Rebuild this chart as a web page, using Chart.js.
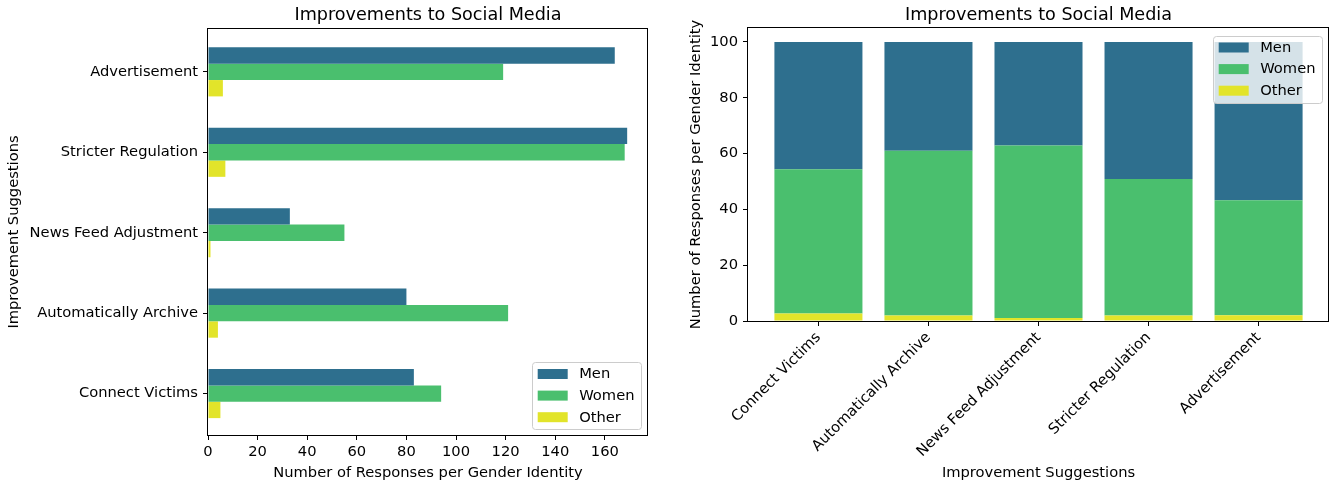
<!DOCTYPE html>
<html>
<head>
<meta charset="utf-8">
<script src="https://cdn.jsdelivr.net/npm/chart.js@4/dist/chart.umd.min.js"></script>
<style>
  html, body { margin: 0; padding: 0; background: #fff; }
  #wrap { position: relative; width: 1330px; height: 484px; overflow: hidden; }
  #left { position: absolute; left: 0; top: 0; }
  #right { position: absolute; left: 680px; top: 0; }
</style>
</head>
<body>
<div id="wrap">
  <canvas id="left" width="670" height="484"></canvas>
  <canvas id="right" width="650" height="484"></canvas>
</div>
<script>
// Responses per gender identity, listed top to bottom as in the horizontal chart
const countCategories = ['Advertisement', 'Stricter Regulation', 'News Feed Adjustment', 'Automatically Archive', 'Connect Victims'];
const menCounts   = [164, 169, 33, 80, 83];
const womenCounts = [119, 168, 55, 121, 94];
const otherCounts = [6, 7, 1, 4, 5];
const countTicks  = [0, 20, 40, 60, 80, 100, 120, 140, 160];

// Share of responses (percent) per suggestion, left to right in the stacked chart
const shareCategories = ['Connect Victims', 'Automatically Archive', 'News Feed Adjustment', 'Stricter Regulation', 'Advertisement'];
const menShare   = [45.6, 39.0, 37.1, 49.1, 56.7];
const womenShare = [51.7, 59.0, 61.8, 48.9, 41.2];
const otherShare = [2.7, 2.0, 1.1, 2.0, 2.1];
const shareTicks = [0, 20, 40, 60, 80, 100];

const seriesNames = ['Men', 'Women', 'Other'];
const chartTitle = 'Improvements to Social Media';
const COLORS = { Men: '#2e6f8e', Women: '#4abf6e', Other: '#e2e42a' };

const FONT = '"DejaVu Sans", sans-serif';
const BASE = 14.7;
const TITLE_SIZE = 17.6;
Chart.defaults.font.family = FONT;
Chart.defaults.font.size = BASE;
Chart.defaults.color = '#000';

// Frame around the plotting area
const spines = {
  id: 'spines',
  afterDatasetsDraw(chart) {
    const { ctx, chartArea: a } = chart;
    ctx.save();
    ctx.strokeStyle = '#000';
    ctx.lineWidth = 1;
    const l = Math.round(a.left) - 0.5, t = Math.round(a.top) - 0.5;
    const r = Math.round(a.right) - 0.5, b = Math.round(a.bottom) + 0.5;
    ctx.strokeRect(l, t, r - l, b - t);
    ctx.restore();
  }
};

// Title centred over the plotting area
const areaTitle = {
  id: 'areaTitle',
  afterDraw(chart, args, o) {
    const { ctx, chartArea: a } = chart;
    ctx.save();
    ctx.font = TITLE_SIZE + 'px ' + FONT;
    ctx.fillStyle = '#000';
    ctx.textAlign = 'center';
    ctx.textBaseline = 'alphabetic';
    ctx.fillText(o.text, (a.left + a.right) / 2, 20);
    ctx.restore();
  }
};

// Legend box drawn inside the plotting area
const insideLegend = {
  id: 'insideLegend',
  afterDraw(chart, args, o) {
    if (!o || !o.items) return;
    const { ctx, chartArea: a } = chart;
    ctx.save();
    ctx.font = BASE + 'px ' + FONT;
    const tw = Math.max(...o.items.map(it => ctx.measureText(it.label).width));
    const padL = 6, handleW = 30, handleH = 10, gap = 11.5, padR = 6.5, rowH = 21.6;
    const w = padL + handleW + gap + tw + padR;
    const h = 2 + rowH * o.items.length;
    const x = a.right - 7 - w;
    const y = o.corner === 'lower right' ? a.bottom - 6 - h : a.top + 7.7;
    ctx.beginPath();
    ctx.roundRect(Math.round(x) + 0.5, Math.round(y) + 0.5, Math.round(w), Math.round(h), 3);
    ctx.fillStyle = 'rgba(255,255,255,0.8)';
    ctx.fill();
    ctx.strokeStyle = '#cccccc';
    ctx.lineWidth = 1;
    ctx.stroke();
    o.items.forEach((it, k) => {
      const cy = y + 1 + rowH * (k + 0.5);
      ctx.fillStyle = it.color;
      ctx.fillRect(x + padL, cy - handleH / 2, handleW, handleH);
      ctx.fillStyle = '#000';
      ctx.textBaseline = 'middle';
      ctx.textAlign = 'left';
      ctx.fillText(it.label, x + padL + handleW + gap, cy + 0.5);
    });
    ctx.restore();
  }
};

const legendItems = seriesNames.map(n => ({ label: n, color: COLORS[n] }));
const tickGrid = { display: true, offset: false, drawOnChartArea: false, drawTicks: true, tickLength: 5, color: '#000', lineWidth: 1 };

// Horizontal grouped bars: counts
const hpoint = arr => arr.map((v, i) => ({ x: v, y: i }));
new Chart(document.getElementById('left'), {
  type: 'bar',
  data: {
    datasets: [
      { label: 'Men', data: hpoint(menCounts), backgroundColor: COLORS.Men },
      { label: 'Women', data: hpoint(womenCounts), backgroundColor: COLORS.Women },
      { label: 'Other', data: hpoint(otherCounts), backgroundColor: COLORS.Other }
    ]
  },
  options: {
    indexAxis: 'y',
    responsive: false,
    animation: false,
    layout: { padding: { left: 0, right: 22, top: 29, bottom: 0 } },
    datasets: { bar: { categoryPercentage: 0.61, barPercentage: 1, borderWidth: 0 } },
    plugins: {
      legend: { display: false },
      tooltip: { enabled: false },
      title: { display: false },
      areaTitle: { text: chartTitle },
      insideLegend: { corner: 'lower right', items: legendItems }
    },
    scales: {
      x: {
        type: 'linear', min: 0, max: 177.4,
        afterBuildTicks: s => { s.ticks = countTicks.map(v => ({ value: v })); },
        ticks: { padding: 3, maxRotation: 0, autoSkip: false },
        grid: tickGrid,
        border: { display: false },
        title: { display: true, text: 'Number of Responses per Gender Identity', padding: { top: 0, bottom: 2.2 } },
        afterFit: s => { s.height = 49; }
      },
      y: {
        type: 'linear', reverse: true, min: -0.533, max: 4.515, offset: false,
        afterBuildTicks: s => { s.ticks = countCategories.map((c, i) => ({ value: i })); },
        ticks: { callback: v => countCategories[v], padding: 5, autoSkip: false },
        grid: tickGrid,
        border: { display: false },
        title: { display: true, text: 'Improvement Suggestions', padding: { top: 5.2, bottom: 0 } },
        afterFit: s => { s.width = 208; }
      }
    }
  },
  plugins: [spines, areaTitle, insideLegend]
});

// Stacked vertical bars: percentage shares
const vpoint = arr => arr.map((v, i) => ({ x: i, y: v }));
new Chart(document.getElementById('right'), {
  type: 'bar',
  data: {
    datasets: [
      { label: 'Other', data: vpoint(otherShare), backgroundColor: COLORS.Other, stack: 'g' },
      { label: 'Women', data: vpoint(womenShare), backgroundColor: COLORS.Women, stack: 'g' },
      { label: 'Men', data: vpoint(menShare), backgroundColor: COLORS.Men, stack: 'g' }
    ]
  },
  options: {
    responsive: false,
    animation: false,
    layout: { padding: { left: 0, right: 1, top: 28, bottom: 0 } },
    datasets: { bar: { categoryPercentage: 1, barPercentage: 0.8, borderWidth: 0 } },
    plugins: {
      legend: { display: false },
      tooltip: { enabled: false },
      title: { display: false },
      areaTitle: { text: chartTitle },
      insideLegend: { corner: 'upper right', items: legendItems }
    },
    scales: {
      x: {
        type: 'linear', min: -0.64, max: 4.64, offset: false,
        afterBuildTicks: s => { s.ticks = shareCategories.map((c, i) => ({ value: i })); },
        ticks: { callback: v => shareCategories[v], minRotation: 45, maxRotation: 45, autoSkip: false, padding: 3 },
        grid: tickGrid,
        border: { display: false },
        title: { display: true, text: 'Improvement Suggestions', padding: { top: 0, bottom: 2.2 } },
        afterFit: s => { s.height = 163; }
      },
      y: {
        type: 'linear', stacked: true, min: 0, max: 105,
        afterBuildTicks: s => { s.ticks = shareTicks.map(v => ({ value: v })); },
        ticks: { padding: 5, autoSkip: false },
        grid: tickGrid,
        border: { display: false },
        title: { display: true, text: 'Number of Responses per Gender Identity', padding: { top: 7.8, bottom: 0 } },
        afterFit: s => { s.width = 68; }
      }
    }
  },
  plugins: [spines, areaTitle, insideLegend]
});
</script>
</body>
</html>
